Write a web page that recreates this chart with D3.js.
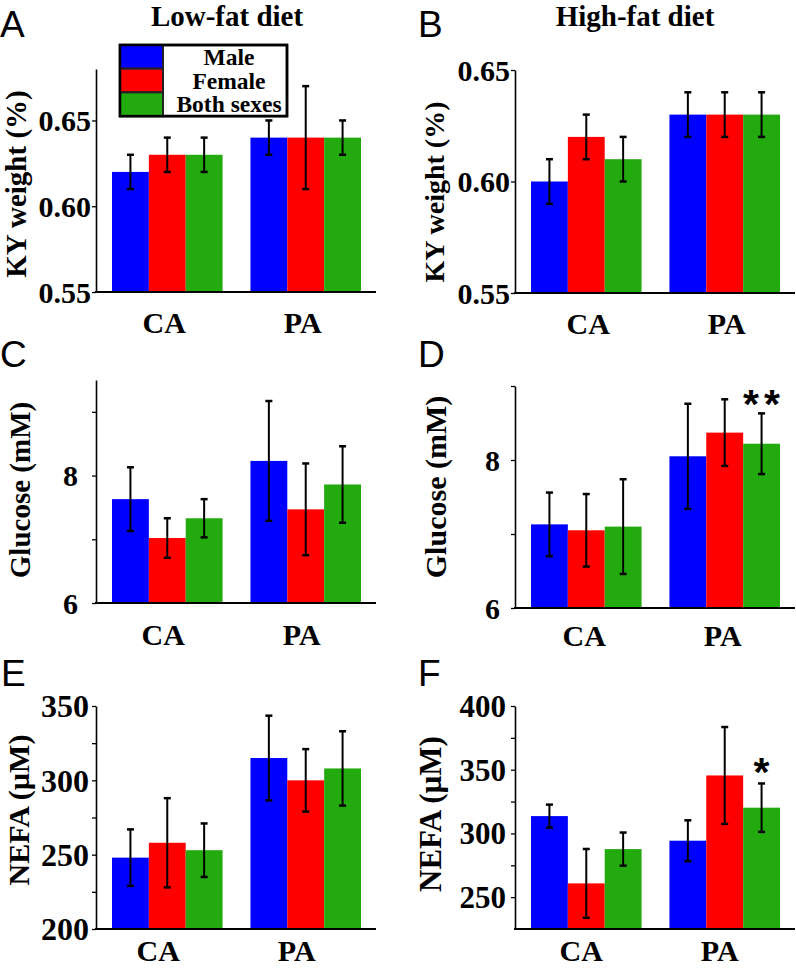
<!DOCTYPE html>
<html>
<head>
<meta charset="utf-8">
<script src="https://cdn.jsdelivr.net/npm/d3@7"></script>
<style>
  html, body { margin: 0; padding: 0; background: #fff; }
  svg { display: block; }
  .serif { font-family: "Liberation Serif", "Times New Roman", serif; font-weight: bold; }
  .sans { font-family: "Liberation Sans", Arial, sans-serif; }
</style>
</head>
<body>
<svg id="chart" width="796" height="968"></svg>
<script>
// ---------------- DATA ----------------
const categories = ["CA", "PA"];
const seriesNames = ["Male", "Female", "Both sexes"];
const seriesColors = ["#0000ff", "#ff0000", "#22aa0e"];
const columnTitles = ["Low-fat diet", "High-fat diet"];
const panelLetters = ["A", "B", "C", "D", "E", "F"];
const yLabels = ["KY weight (%)", "KY weight (%)", "Glucose (mM)", "Glucose (mM)", "NEFA (\u00b5M)", "NEFA (\u00b5M)"];

// means[series][category], errors[series][category]
const kyLowMeans  = [[0.62, 0.64], [0.63, 0.64], [0.63, 0.64]];
const kyLowErr    = [[0.01, 0.01], [0.01, 0.03], [0.01, 0.01]];
const kyHighMeans = [[0.60, 0.63], [0.62, 0.63], [0.61, 0.63]];
const kyHighErr   = [[0.01, 0.01], [0.01, 0.01], [0.01, 0.01]];

const gluLowMeans  = [[7.63, 8.23], [7.02, 7.47], [7.33, 7.86]];
const gluLowErr    = [[0.50, 0.94], [0.31, 0.72], [0.30, 0.60]];
const gluHighMeans = [[7.13, 8.05], [7.05, 8.37], [7.10, 8.22]];
const gluHighErr   = [[0.43, 0.71], [0.49, 0.45], [0.64, 0.41]];

const nefaLowMeans  = [[248, 315], [258, 300], [253, 308]];
const nefaLowErr    = [[19, 28.5], [30, 21], [18, 25]];
const nefaHighMeans = [[313.6, 294.3], [260.8, 345.5], [287.7, 320.2]];
const nefaHighErr   = [[9, 16], [27, 38], [13, 19]];

// y-axis domains and ticks
const kyLowDomain = [0.55, 0.68],  kyLowTicks = [0.55, 0.60, 0.65],  kyLowMinor = [];
const kyHighDomain = [0.55, 0.65], kyHighTicks = [0.55, 0.60, 0.65], kyHighMinor = [];
const gluLowDomain = [6, 9.5],     gluLowTicks = [6, 8],             gluLowMinor = [7, 9];
const gluHighDomain = [6, 9],      gluHighTicks = [6, 8],            gluHighMinor = [7, 9];
const nefaLowDomain = [200, 350],  nefaLowTicks = [200, 250, 300, 350], nefaLowMinor = [225, 275, 325];
const nefaHighDomain = [225, 400], nefaHighTicks = [250, 300, 350, 400], nefaHighMinor = [275, 325, 375];

// significance marks: [panelIndex, seriesIndex, categoryIndex, text]
const sigMarks = [[3, 2, 1, "**"], [5, 2, 1, "*"]];

// ---------------- LAYOUT ----------------
const cols = [
  { ax: 96,  band: [112, 361], xEnd: 376 },
  { ax: 515, band: [531, 780], xEnd: 795 }
];
const panels = [
  { col: 0, means: kyLowMeans,  errs: kyLowErr,  domain: kyLowDomain,  ticks: kyLowTicks,  minor: kyLowMinor,  fmt: ".2f", yr: [292, 69],  tickFs: 30, pad: 1,  lab: [16, 184, 29], letter: [0, 37],   xlab: [333, -3] },
  { col: 1, means: kyHighMeans, errs: kyHighErr, domain: kyHighDomain, ticks: kyHighTicks, minor: kyHighMinor, fmt: ".2f", yr: [293, 70],  tickFs: 30, pad: 1,  lab: [434, 192, 28], letter: [418, 37], xlab: [334, 2] },
  { col: 0, means: gluLowMeans,  errs: gluLowErr,  domain: gluLowDomain,  ticks: gluLowTicks,  minor: gluLowMinor,  fmt: "d", yr: [603, 380], tickFs: 30, pad: 14, lab: [20, 490, 29], letter: [0, 367],  xlab: [645, -4] },
  { col: 1, means: gluHighMeans, errs: gluHighErr, domain: gluHighDomain, ticks: gluHighTicks, minor: gluHighMinor, fmt: "d", yr: [608, 386], tickFs: 30, pad: 11, lab: [435, 487, 30], letter: [418, 367], xlab: [646, -2] },
  { col: 0, means: nefaLowMeans,  errs: nefaLowErr,  domain: nefaLowDomain,  ticks: nefaLowTicks,  minor: nefaLowMinor,  fmt: "d", yr: [929, 706], tickFs: 32, pad: 3, lab: [18, 810, 30], letter: [1, 686],  xlab: [961, -9] },
  { col: 1, means: nefaHighMeans, errs: nefaHighErr, domain: nefaHighDomain, ticks: nefaHighTicks, minor: nefaHighMinor, fmt: "d", yr: [929, 706], tickFs: 31, pad: 5, lab: [430, 814, 31], letter: [418, 686], xlab: [961, -5] }
];

const svg = d3.select("#chart");

// column titles
[227, 635].forEach((cx, i) => {
  svg.append("text").attr("class", "serif")
    .attr("x", cx).attr("y", 26).attr("text-anchor", "middle")
    .attr("font-size", 29).text(columnTitles[i]);
});

const scales = [];
panels.forEach((p, pi) => {
  const c = cols[p.col];
  const g = svg.append("g");
  const x0 = d3.scaleBand().domain(categories).range(c.band).paddingInner(28 / 139).paddingOuter(0);
  const x1 = d3.scaleBand().domain(seriesNames).range([0, x0.bandwidth()]).padding(0);
  const y = d3.scaleLinear().domain(p.domain).range(p.yr);
  scales.push({ x0, x1, y });

  // bars
  seriesNames.forEach((s, si) => {
    categories.forEach((cat, ci) => {
      const v = p.means[si][ci];
      g.append("rect")
        .attr("x", x0(cat) + x1(s))
        .attr("y", y(v))
        .attr("width", x1.bandwidth())
        .attr("height", y(p.domain[0]) - y(v))
        .attr("fill", seriesColors[si]);
    });
  });

  // error bars
  seriesNames.forEach((s, si) => {
    categories.forEach((cat, ci) => {
      const v = p.means[si][ci], e = p.errs[si][ci];
      const cx = x0(cat) + x1(s) + x1.bandwidth() / 2;
      const eg = g.append("g").attr("stroke", "#000").attr("fill", "none");
      eg.append("line").attr("x1", cx).attr("x2", cx).attr("y1", y(v + e)).attr("y2", y(v - e)).attr("stroke-width", 2);
      [v + e, v - e].forEach(t => {
        eg.append("line").attr("x1", cx - 3.5).attr("x2", cx + 3.5).attr("y1", y(t)).attr("y2", y(t)).attr("stroke-width", 2.5);
      });
    });
  });

  // y axis (major)
  const yAxis = d3.axisLeft(y).tickValues(p.ticks).tickFormat(d3.format(p.fmt))
    .tickSize(4).tickSizeOuter(0).tickPadding(p.pad);
  const ag = g.append("g").attr("transform", `translate(${c.ax},0)`).call(yAxis);
  ag.select(".domain").attr("stroke", "#000").attr("stroke-width", 1.6);
  ag.selectAll(".tick line").attr("stroke", "#000").attr("stroke-width", 1.3);
  ag.selectAll(".tick text").attr("class", "serif").attr("font-size", p.tickFs).attr("fill", "#000")
    .attr("dy", "0.34em");
  // minor ticks
  if (p.minor.length) {
    const mAxis = d3.axisLeft(y).tickValues(p.minor).tickFormat("").tickSize(4).tickSizeOuter(0);
    const mg = g.append("g").attr("transform", `translate(${c.ax},0)`).call(mAxis);
    mg.select(".domain").remove();
    mg.selectAll(".tick line").attr("stroke", "#000").attr("stroke-width", 1.3);
  }

  // x axis line
  const by = y(p.domain[0]);
  g.append("line").attr("x1", c.ax - 1).attr("x2", c.xEnd).attr("y1", by).attr("y2", by)
    .attr("stroke", "#000").attr("stroke-width", 1.8);

  // x category labels
  categories.forEach(cat => {
    g.append("text").attr("class", "serif")
      .attr("x", x0(cat) + x0.bandwidth() / 2 + p.xlab[1]).attr("y", p.xlab[0])
      .attr("text-anchor", "middle").attr("font-size", 30).text(cat);
  });

  // y label
  g.append("text").attr("class", "serif")
    .attr("transform", `translate(${p.lab[0]},${p.lab[1]}) rotate(-90)`)
    .attr("text-anchor", "middle").attr("dy", "0.35em")
    .attr("font-size", p.lab[2]).text(yLabels[pi]);

  // panel letter
  svg.append("text").attr("class", "sans")
    .attr("x", p.letter[0]).attr("y", p.letter[1])
    .attr("font-size", 37).text(panelLetters[pi]);
});

// significance marks
sigMarks.forEach(([pi, si, ci, t]) => {
  const s = scales[pi], p = panels[pi];
  const cx = s.x0(categories[ci]) + s.x1(seriesNames[si]) + s.x1.bandwidth() / 2;
  const top = s.y(p.means[si][ci] + p.errs[si][ci]);
  svg.append("text").attr("class", "sans")
    .attr("x", cx).attr("y", top + (t.length > 1 ? 5 : 3))
    .attr("text-anchor", "middle").attr("font-weight", "bold")
    .attr("font-size", 41).attr("letter-spacing", t.length > 1 ? 5 : 0)
    .attr("dx", t.length > 1 ? 2.5 : 0)
    .text(t);
});

// legend (panel A)
const lg = svg.append("g");
const legX = 120, legY = 45, legW = 167, rowH = 23.7, swW = 43;
lg.append("rect").attr("x", legX).attr("y", legY).attr("width", legW).attr("height", rowH * 3)
  .attr("fill", "#fff").attr("stroke", "#000").attr("stroke-width", 2.5);
seriesNames.forEach((s, i) => {
  lg.append("rect").attr("x", legX).attr("y", legY + i * rowH).attr("width", swW).attr("height", rowH)
    .attr("fill", seriesColors[i]).attr("stroke", "#222").attr("stroke-width", 2);
  lg.append("text").attr("class", "serif")
    .attr("x", 229).attr("y", legY + i * rowH + 20)
    .attr("text-anchor", "middle").attr("font-size", 23.5).text(s);
});
lg.append("rect").attr("x", legX).attr("y", legY).attr("width", legW).attr("height", rowH * 3)
  .attr("fill", "none").attr("stroke", "#000").attr("stroke-width", 2.5);
</script>
</body>
</html>
